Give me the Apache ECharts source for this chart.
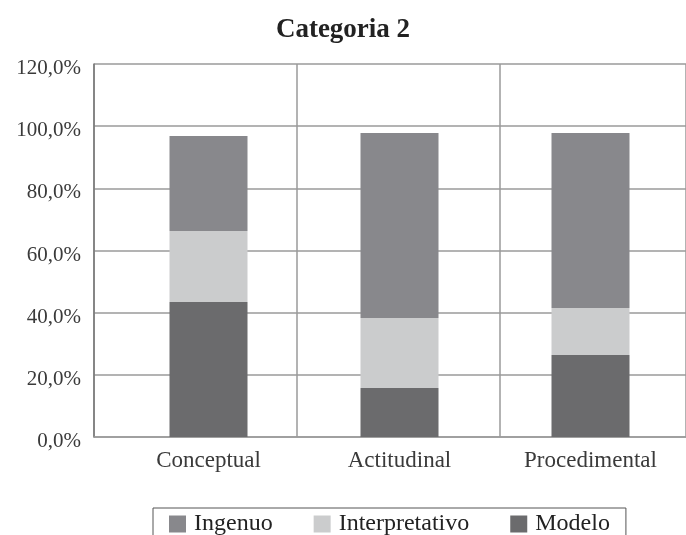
<!DOCTYPE html>
<html>
<head>
<meta charset="utf-8">
<script src="https://cdn.jsdelivr.net/npm/echarts@6/dist/echarts.min.js"></script>
<style>
  html, body { margin: 0; padding: 0; background: #fff; }
  #chart { width: 686px; height: 535px; }
</style>
</head>
<body>
<div id="chart"></div>
<script>
const categories = ['Conceptual', 'Actitudinal', 'Procedimental']
const modelo = [43.4, 15.8, 26.4]
const interpretativo = [22.9, 22.5, 15.1]
const ingenuo = [30.5, 59.5, 56.3]
const yTicks = [0, 20, 40, 60, 80, 100, 120]

const font = '"Liberation Serif", "DejaVu Serif", serif'
const txt = '#3a3a3a'
const line = '#9a9a9a'

let chart = echarts.init(document.getElementById('chart'))

const pct = v => v.toFixed(1).replace('.', ',') + '%'

let opts = {
  animation: false,
  title: {
    text: 'Categoria 2',
    left: 'center',
    top: 12,
    textStyle: { fontFamily: font, fontSize: 27, fontWeight: 'bold', color: '#222' }
  },
  legend: {
    data: ['Ingenuo', 'Interpretativo', 'Modelo'],
    left: 153,
    top: 508,
    padding: [4, 16, 14, 16],
    itemWidth: 17,
    itemHeight: 17,
    itemGap: 41,
    borderColor: '#555',
    borderWidth: 1,
    borderRadius: 0,
    icon: 'rect',
    textStyle: { fontFamily: font, fontSize: 24, color: '#222', padding: [0, 0, 0, 3] }
  },
  grid: [
    { left: 113, top: 64, width: 578, bottom: 98 },
    { left: 94, top: 64, right: 0, bottom: 98 }
  ],
  xAxis: [
    {
      type: 'category',
      gridIndex: 0,
      data: categories,
      axisLine: { show: false },
      axisTick: { show: false },
      splitLine: { show: false },
      axisLabel: { fontFamily: font, fontSize: 23, color: txt, margin: 12 }
    },
    {
      type: 'value',
      gridIndex: 1,
      min: 0,
      max: 591,
      interval: 202.5,
      axisLine: { show: true, lineStyle: { color: line, width: 1.5 } },
      axisTick: { show: false },
      axisLabel: { show: false },
      splitLine: { show: true, lineStyle: { color: line, width: 1.5 } }
    }
  ],
  yAxis: [
    {
      type: 'value',
      gridIndex: 0,
      min: 0,
      max: 120,
      interval: 20,
      show: false,
      splitLine: { show: false }
    },
    {
      type: 'value',
      gridIndex: 1,
      min: yTicks[0],
      max: yTicks[yTicks.length - 1],
      interval: 20,
      axisLine: { show: true, lineStyle: { color: '#777', width: 1.5 } },
      axisTick: { show: false },
      splitLine: { show: true, lineStyle: { color: line, width: 1.5 } },
      axisLabel: {
        margin: 13,
        formatter: v => '{a|' + pct(v) + '}',
        rich: {
          a: { fontFamily: font, fontSize: 21, color: txt, padding: [9, 0, 0, 0] }
        }
      }
    }
  ],
  series: [
    { name: 'Modelo', type: 'bar', stack: 'a', data: modelo, barWidth: 78, itemStyle: { color: '#6b6b6d' } },
    { name: 'Interpretativo', type: 'bar', stack: 'a', data: interpretativo, barWidth: 78, itemStyle: { color: '#cbcccd' } },
    { name: 'Ingenuo', type: 'bar', stack: 'a', data: ingenuo, barWidth: 78, itemStyle: { color: '#88888c' } }
  ]
}
chart.setOption(opts)
</script>
</body>
</html>
